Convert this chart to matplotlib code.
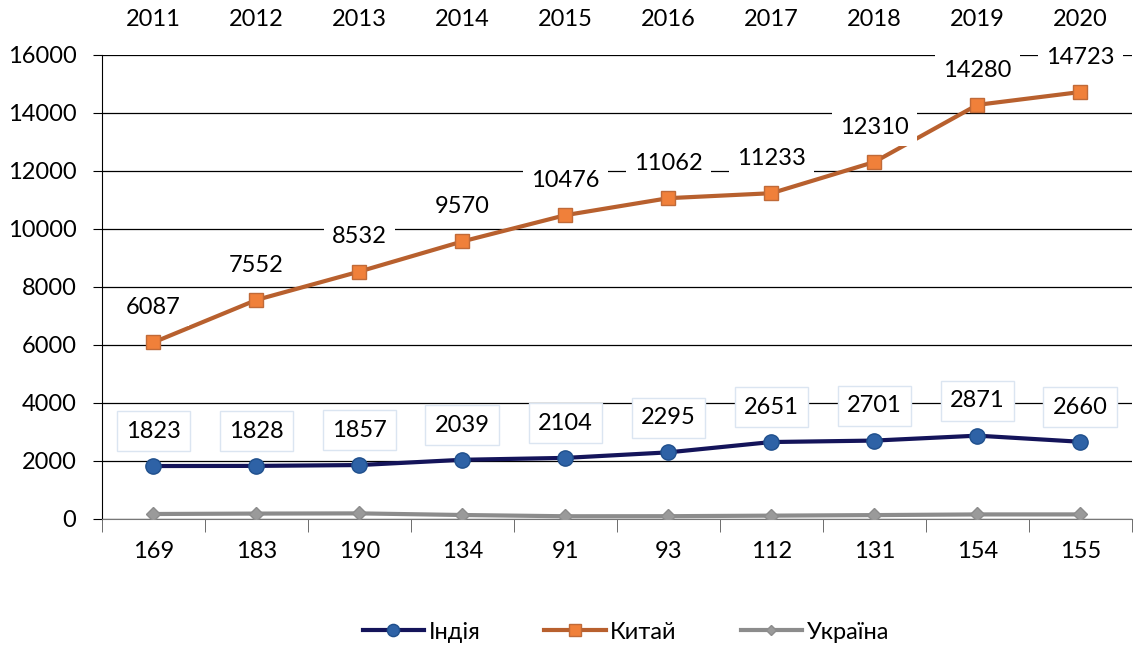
import numpy as np
import matplotlib.pyplot as plt

plt.rcParams['font.family'] = ['Lato', 'DejaVu Sans']

# дані
years = ['2011', '2012', '2013', '2014', '2015', '2016', '2017', '2018', '2019', '2020']
india = [1823, 1828, 1857, 2039, 2104, 2295, 2651, 2701, 2871, 2660]
china = [6087, 7552, 8532, 9570, 10476, 11062, 11233, 12310, 14280, 14723]
ukraine = [169, 183, 190, 134, 91, 93, 112, 131, 154, 155]

x = np.arange(len(years))
fs = 17

fig = plt.figure(figsize=(11.38, 6.47), dpi=100)
ax = fig.add_axes([0.0896, 0.198, 0.905, 0.717])

ax.plot(x, ukraine, color='#8c8c8c', lw=3, marker='D', ms=7,
        mfc='#9a9a9a', mec='#8c8c8c', label='Україна', zorder=3)
ax.plot(x, china, color='#b8602e', lw=3, marker='s', ms=10,
        mfc='#f0803a', mec='#c06a38', label='Китай', zorder=4)
ax.plot(x, india, color='#14145a', lw=3, marker='o', ms=11,
        mfc='#2e62a6', mec='#1f4f8c', label='Індія', zorder=4)

# підписи даних
for xi, v in zip(x, china):
    ax.annotate(str(v), (xi, v), xytext=(0, 25), textcoords='offset points',
                ha='center', va='center', fontsize=fs, zorder=5,
                bbox=dict(boxstyle='square,pad=0.35', fc='white', ec='none'))
for xi, v in zip(x, india):
    ax.annotate(str(v), (xi, v), xytext=(0, 25), textcoords='offset points',
                ha='center', va='center', fontsize=fs, zorder=5,
                bbox=dict(boxstyle='square,pad=0.4', fc='white', ec='#dbe5f1', lw=1))

ax.set_xlim(-0.5, 9.5)
ax.set_ylim(0, 16000)
ax.set_yticks(np.arange(0, 16001, 2000))
ax.yaxis.grid(True, color='black', lw=0.9)
ax.set_axisbelow(True)
ax.tick_params(axis='y', labelsize=fs, length=6.5, color='black', pad=12)

ax.set_xticks(x)
ax.set_xticklabels([str(v) for v in ukraine])
ax.set_xticks(np.arange(-0.5, 10, 1), minor=True)
ax.tick_params(axis='x', which='major', length=0, labelsize=fs, pad=16)
ax.tick_params(axis='x', which='minor', length=9, color='#555555')

for s in ['top', 'right']:
    ax.spines[s].set_visible(False)
ax.spines['left'].set_color('black')
ax.spines['bottom'].set_color('#777777')

top = ax.secondary_xaxis('top')
top.set_xticks(x)
top.set_xticklabels(years)
top.tick_params(length=0, labelsize=fs, pad=18)
top.spines['top'].set_visible(False)

handles, labels = ax.get_legend_handles_labels()
order = [2, 1, 0]
fig.legend([handles[i] for i in order], [labels[i] for i in order],
           loc='center', bbox_to_anchor=(0.55, 0.023), ncol=3, frameon=False,
           fontsize=fs, handlelength=2.6, columnspacing=2.7, handletextpad=0.2,
           markerscale=0.8)

fig.savefig('out.png', dpi=100)
